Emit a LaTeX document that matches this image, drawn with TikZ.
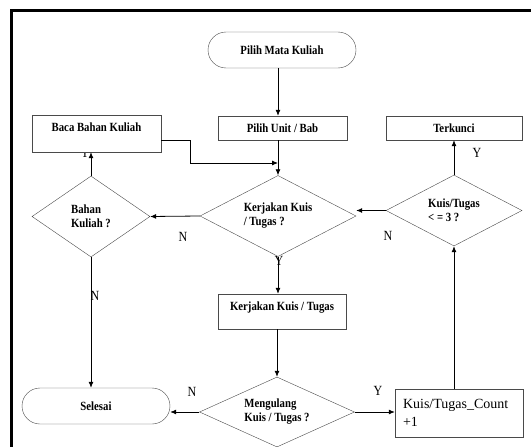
\documentclass[tikz,border=0pt]{standalone}
\usepackage{fontspec}
\setmainfont{Liberation Serif}
\newfontfamily\narrowfont[FakeStretch=0.86]{Liberation Serif}
\usetikzlibrary{arrows.meta,positioning,shapes.geometric,calc}
\definecolor{edge}{HTML}{4A4A4A}

\begin{document}
\begin{tikzpicture}[x=1pt, y=-1pt, every node/.style={font=\narrowfont\bfseries\fontsize{12.5}{14}\selectfont}, box/.style={draw=edge, fill=white, minimum width=128pt, minimum height=24pt, inner sep=0pt, align=center}, term/.style={box, minimum width=148pt, minimum height=36pt, rounded corners=18pt}, dec/.style={draw=edge, fill=white, diamond, shape aspect=2, inner sep=0pt, align=left}, lbl/.style={font=\narrowfont\fontsize{14}{14}\selectfont}, arr/.style={-{Latex[length=6pt,width=5pt]}, line width=0.8pt}]
\useasboundingbox (0,0) rectangle (531,447);
\draw[line width=3.5pt] (11.5,447) -- (11.5,10.5) -- (531,10.5);
\node[lbl] (yBaca) at (85,153) {Y};
\node[lbl] (yKerja) at (279,261) {Y};
\node[term] (mulai) at (282,50) {Pilih Mata Kuliah};
\node[box, minimum width=129pt] (unit) at (282.5,128) {Pilih Unit / Bab};
\node[box, minimum width=129pt, minimum height=37pt, text height=8pt, text depth=12pt] (baca) at (96.5,133.5) {Baca Bahan Kuliah};
\node[box, minimum width=136pt] (kunci) at (454,128) {Terkunci};
\node[dec, minimum width=156pt, minimum height=81pt] (kerja) at (278,216) {Kerjakan Kuis\\/ Tugas ?};
\node[dec, minimum width=118pt, minimum height=81pt] (bahan) at (91,216.5) {Bahan\\Kuliah ?};
\node[dec, minimum width=136pt, minimum height=71pt] (batas) at (454,210.5) {Kuis/Tugas\\< = 3 ?};
\node[box, minimum height=35pt, text height=8pt, text depth=10pt] (tugas) at (282,311.5) {Kerjakan Kuis / Tugas};
\node[dec, minimum width=155pt, minimum height=70pt] (ulang) at (277,412) {Mengulang\\Kuis / Tugas ?};
\node[term] (selesai) at (96,406) {Selesai};
\node[box, minimum height=48pt, text width=112pt, align=left, font=\fontsize{14}{18}\selectfont] (hitung) at (459,413) {Kuis/Tugas\_Count\\+1};
\coordinate (belok) at (190,163);
\draw[arr] (mulai.south -| kerja.north)--(unit.north -| kerja.north);
\draw[arr] (unit.south -| kerja.north)--(kerja.north);
\draw[arr] ([yshift=-6.5pt]baca.east) -| (belok) -- (belok -| kerja.north);
\draw[arr] (kerja.west)--(bahan.east);
\draw[arr] (bahan.north)--(bahan.north |- baca.south);
\draw[arr] (bahan.south)--(bahan.south |- selesai.north);
\draw[arr] (kerja.south)--(kerja.south |- tugas.north);
\draw[arr] (tugas.south -| ulang.north)--(ulang.north);
\draw[arr] (ulang.west)--(ulang.west -| selesai.east);
\draw[arr] (ulang.east)--(ulang.east -| hitung.west);
\draw[arr] (hitung.north -| batas.south)--(batas.south);
\draw[arr] (batas.north)--(batas.north |- kunci.south);
\draw[arr] (batas.west)--(batas.west -| kerja.east);
\node[lbl] (nKiri) at (183,237) {N};
\node[lbl] (nBahan) at (95,296) {N};
\node[lbl] (nUlang) at (192,392) {N};
\node[lbl] (yUlang) at (378,391) {Y};
\node[lbl] (nBatas) at (388,236) {N};
\node[lbl] (yBatas) at (477,153) {Y};
\end{tikzpicture}
\end{document}
